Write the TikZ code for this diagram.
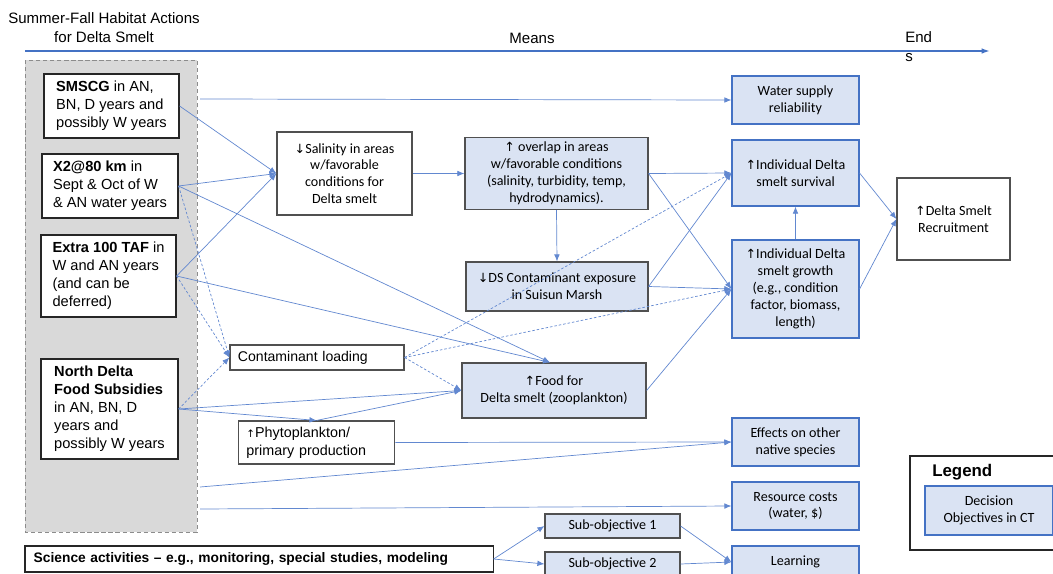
\documentclass[tikz,border=0pt]{standalone}
\usepackage{fontspec}
\setmainfont{Liberation Sans}
\newfontfamily\calfont{Carlito}
\newfontfamily\symfont{DejaVu Sans}
\definecolor{ctblue}{RGB}{68,114,196}
\definecolor{ctline}{RGB}{98,136,208}
\definecolor{ctfill}{RGB}{218,227,243}
\definecolor{ctgray}{RGB}{217,217,217}
\definecolor{ctedge}{RGB}{80,80,80}
\usetikzlibrary{arrows.meta,positioning}
\newcommand{\upar}{{\symfont\scalebox{0.9}{↑}}}
\newcommand{\dnar}{{\symfont\scalebox{0.9}{↓}}}

\begin{document}
\begin{tikzpicture}[x=0.025cm,y=-0.025cm,
    actbox/.style={draw=black!85,line width=0.8pt,fill=white,align=left,
      font=\fontsize{10.4}{12.8}\selectfont},
    meanbox/.style={draw=ctedge,line width=0.8pt,fill=white,align=center,
      font=\calfont\fontsize{10}{12}\selectfont},
    midbox/.style={meanbox,fill=ctfill},
    objbox/.style={draw=ctblue,line width=0.8pt,fill=ctfill,align=center,
      minimum width=3.175cm,font=\calfont\fontsize{10}{12}\selectfont},
    link/.style={ctline,line width=0.5pt,-{Latex[length=5pt,width=4pt]}},
    dlink/.style={link,dash pattern=on 1.8pt off 1.4pt}]
  \useasboundingbox (0,0) rectangle (1053,573);
  \clip (0,0) rectangle (1053,573);
  % Title and means-ends axis
  \node[align=center,font=\fontsize{10.7}{13.5}\selectfont] (title) at (104,28)
    {Summer-Fall Habitat Actions\\for Delta Smelt};
  \coordinate (axL) at (25,51);
  \coordinate (axR) at (990,51);
  \draw[ctblue,line width=1.1pt,-{Latex[length=6pt,width=4pt]}] (axL) -- (axR);
  \node[font=\fontsize{10.7}{13}\selectfont] (means) at (532,38) {Means};
  \node[anchor=west,align=left,inner xsep=0pt,font=\fontsize{10.7}{13.5}\selectfont] (ends) at (905,47) {End\\s};
  % Group of actions
  \draw[fill=ctgray,draw=black!45,densely dashed,line width=0.7pt] (25,60) rectangle (197,532);
  \coordinate (grpA) at (200,99);
  \coordinate (grpB) at (200,487);
  \coordinate (grpC) at (200,509);
  % Action boxes
  \node[actbox,minimum width=3.375cm,minimum height=1.6cm] (smscg) at (111.5,106)
    {\textbf{SMSCG} in AN,\\BN, D years and\\possibly W years};
  \node[actbox,minimum width=3.4cm,minimum height=1.6cm] (xtwo) at (110,186)
    {\textbf{X2@80 km} in\\Sept \& Oct of W\\\& AN water years};
  \node[actbox,minimum width=3.375cm,minimum height=2.05cm] (extra) at (108.5,276)
    {\textbf{Extra 100 TAF} in\\W and AN years\\(and can be\\deferred)};
  \node[actbox,minimum width=3.425cm,minimum height=2.5cm] (north) at (109.5,409)
    {\textbf{North Delta}\\\textbf{Food Subsidies}\\in AN, BN, D\\years and\\possibly W years};
  \node[actbox,text width=11.26cm,inner xsep=0.22cm,minimum height=0.65cm,font=\bfseries\fontsize{9.8}{11}\selectfont] (sci) at (259,559)
    {Science activities -- e.g., monitoring, special studies, modeling};
  % Means
  \node[meanbox,minimum width=3.375cm,minimum height=2.075cm] (sal) at (344.5,173.5)
    {\dnar Salinity in areas\\w/favorable\\conditions for\\Delta smelt};
  \node[meanbox,align=left,text width=3.95cm,inner xsep=0.2cm,minimum height=0.625cm,
    font=\fontsize{10}{12}\selectfont] (contload) at (317,357.5)
    {Contaminant loading};
  \node[meanbox,align=left,text width=3.5cm,inner xsep=0.21cm,minimum height=1.075cm,
    font=\fontsize{10.2}{12.5}\selectfont] (phyto) at (316.5,442.5)
    {{\scalebox{0.8}{\upar}}Phytoplankton/\\primary production};
  \node[midbox,minimum width=4.575cm,minimum height=1.725cm] (overlap) at (556.5,173.5)
    {\upar{} overlap in areas\\w/favorable conditions\\(salinity, turbidity, temp,\\hydrodynamics).};
  \node[midbox,minimum width=4.55cm,minimum height=1.225cm] (dscont) at (557,286.5)
    {\dnar DS Contaminant exposure\\in Suisun Marsh};
  \node[midbox,minimum width=4.6cm,minimum height=1.375cm] (food) at (554,390.5)
    {\upar Food for\\Delta smelt (zooplankton)};
  % Objectives
  \node[objbox,minimum height=1.2cm] (water) at (795.5,100) {Water supply\\reliability};
  \node[objbox,minimum height=1.65cm] (surv) at (795.5,173) {\upar Individual Delta\\smelt survival};
  \node[objbox,minimum height=2.45cm] (growth) at (795.5,289)
    {\upar Individual Delta\\smelt growth\\(e.g., condition\\factor, biomass,\\length)};
  \node[objbox,minimum height=1.2cm] (effects) at (795.5,442) {Effects on other\\native species};
  \node[objbox,minimum height=1.2cm] (rescost) at (795.5,506) {Resource costs\\(water, \$)};
  \node[objbox,minimum height=0.8cm] (learn) at (795.5,562) {Learning};
  \node[midbox,minimum width=3.375cm,minimum height=0.6cm] (sub1) at (612.5,526) {Sub-objective 1};
  \node[midbox,minimum width=3.375cm,minimum height=0.6cm] (sub2) at (612.5,564) {Sub-objective 2};
  \node[meanbox,minimum width=2.825cm,minimum height=2.05cm] (recruit) at (953.5,219)
    {\upar Delta Smelt\\Recruitment};
  % Legend
  \draw[black!85,line width=0.8pt] (910,456) rectangle (1070,550);
  \node[anchor=north west,fill=white,text width=2.1cm,inner xsep=0.175cm,minimum height=0.7cm,
    align=left,font=\bfseries\fontsize{12}{14}\selectfont] (legtitle) at (925,458) {Legend};
  \node[objbox,minimum width=3.2cm,minimum height=1.225cm] (legbox) at (989,510.5)
    {Decision\\Objectives in CT};
  % Connectors
  \draw[link] (grpA) -- (water.west);
  \foreach \a in {smscg,xtwo,extra} \draw[link] (\a.east) -- (sal.west);
  \foreach \a in {xtwo,extra} \draw[link] (\a.east) -- ([xshift=-0.1cm]food.north);
  \foreach \a in {xtwo,extra,north} \draw[dlink] (\a.east) -- (contload.west);
  \draw[link] (north.east) -- (food.west);
  \draw[link] (north.east) -- (phyto.north);
  \draw[link] (phyto.north) -- (food.west);
  \draw[link] (sal.east) -- (overlap.west);
  \draw[link] (overlap.south) -- (dscont.north);
  \foreach \a in {overlap,dscont} {
    \draw[link] (\a.east) -- (surv.west);
    \draw[link] (\a.east) -- (growth.west);
  }
  \draw[link] (food.east) -- (growth.west);
  \draw[dlink] (contload.east) -- (surv.west);
  \draw[dlink] (contload.east) -- (growth.west);
  \draw[dlink] (contload.east) -- (food.west);
  \draw[link] (growth.north) -- (surv.south);
  \draw[link] (surv.east) -- (recruit.west);
  \draw[link] (growth.east) -- (recruit.west);
  \draw[link] (phyto.east) -- (effects.west);
  \draw[link] (grpB) -- (effects.west);
  \draw[link] (grpC) -- (rescost.west);
  \draw[link] (sci.east) -- (sub1.west);
  \draw[link] (sci.east) -- (sub2.west);
  \draw[link] (sub1.east) -- (learn.west);
  \draw[link] (sub2.east) -- (learn.west);
\end{tikzpicture}
\end{document}
